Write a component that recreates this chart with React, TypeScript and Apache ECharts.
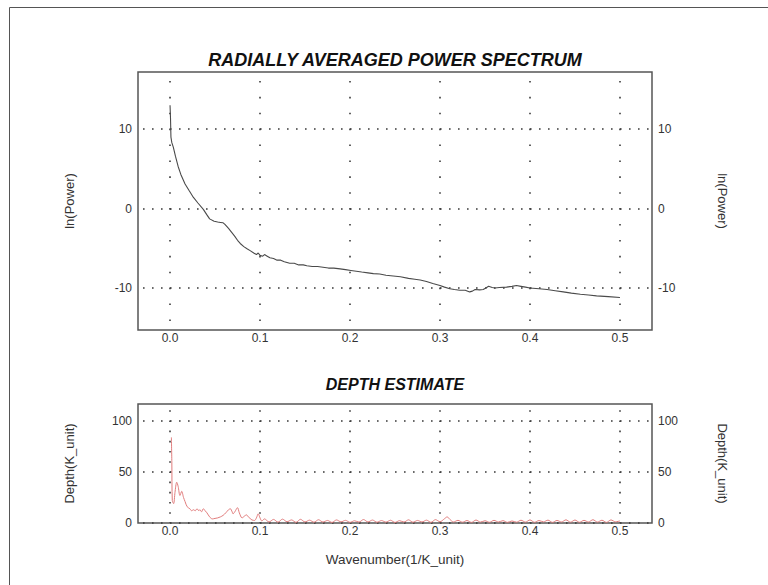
import React, { useEffect, useRef } from "react";
import * as echarts from "echarts";

// Radially averaged power spectrum: [wavenumber, ln(power)]
const powerK = [
  0.0, 0.0005, 0.001, 0.002, 0.0037, 0.006, 0.009, 0.012, 0.0167, 0.021, 0.026, 0.031, 0.037, 0.041, 0.044,
  0.049, 0.053, 0.056, 0.059, 0.061, 0.065, 0.0685, 0.072, 0.075, 0.078, 0.082, 0.086, 0.089, 0.093, 0.096,
  0.098, 0.1, 0.103, 0.105, 0.108, 0.111, 0.115, 0.119, 0.123, 0.127, 0.133, 0.138, 0.143, 0.148, 0.152,
  0.158, 0.164, 0.17, 0.176, 0.182, 0.189, 0.195, 0.201, 0.207, 0.213, 0.22, 0.226, 0.233, 0.24, 0.248,
  0.256, 0.265, 0.272, 0.278, 0.285, 0.292, 0.3, 0.305, 0.311, 0.316, 0.322, 0.328, 0.333, 0.336, 0.339,
  0.344, 0.348, 0.351, 0.354, 0.358, 0.361, 0.366, 0.374, 0.38, 0.385, 0.39, 0.395, 0.4, 0.41, 0.419,
  0.428, 0.437, 0.446, 0.456, 0.465, 0.474, 0.487, 0.5,
];
const powerV = [
  13.0, 11.5, 9.0, 8.3, 7.7, 6.6, 5.3, 4.3, 3.1, 2.3, 1.4, 0.7, -0.1, -0.8, -1.3,
  -1.6, -1.7, -1.75, -1.8, -2.0, -2.5, -3.0, -3.5, -4.0, -4.4, -4.8, -5.1, -5.3, -5.6, -5.8,
  -5.6, -5.9, -6.0, -5.8, -6.0, -6.2, -6.3, -6.5, -6.5, -6.7, -6.9, -6.9, -7.1, -7.1, -7.2,
  -7.3, -7.3, -7.4, -7.5, -7.5, -7.6, -7.7, -7.8, -7.9, -8.0, -8.1, -8.2, -8.25, -8.4, -8.5,
  -8.6, -8.8, -8.9, -9.0, -9.2, -9.45, -9.7, -9.9, -10.1, -10.2, -10.3, -10.3, -10.5, -10.4, -10.2,
  -10.25, -10.2, -10.0, -9.8, -9.95, -10.0, -9.95, -9.9, -9.8, -9.7, -9.8, -9.9, -10.0, -10.1, -10.2,
  -10.35, -10.5, -10.65, -10.8, -10.9, -11.0, -11.1, -11.2,
];

// Depth estimate: [wavenumber, depth]
const depthK = [
  0.0015, 0.002, 0.0025, 0.004, 0.0055, 0.0074, 0.009, 0.011, 0.013, 0.015, 0.0167, 0.019, 0.022, 0.024,
  0.026, 0.028, 0.03, 0.032, 0.033, 0.035, 0.037, 0.039, 0.041, 0.044, 0.047, 0.05, 0.053, 0.056, 0.059,
  0.062, 0.065, 0.067, 0.069, 0.07, 0.072, 0.075, 0.077, 0.08, 0.083, 0.085, 0.087, 0.089, 0.091, 0.094,
  0.096, 0.098, 0.1, 0.102, 0.105, 0.11, 0.115, 0.12, 0.125, 0.13, 0.135, 0.14, 0.145, 0.15, 0.155, 0.16,
  0.165, 0.17, 0.175, 0.18, 0.185, 0.19, 0.195, 0.2, 0.205, 0.21, 0.215, 0.22, 0.225, 0.23, 0.235, 0.24,
  0.245, 0.25, 0.255, 0.26, 0.265, 0.27, 0.275, 0.28, 0.285, 0.29, 0.295, 0.3, 0.305, 0.308, 0.311, 0.315,
  0.32, 0.325, 0.33, 0.335, 0.34, 0.345, 0.35, 0.355, 0.36, 0.365, 0.37, 0.375, 0.38, 0.385, 0.39, 0.395,
  0.4, 0.405, 0.41, 0.415, 0.42, 0.425, 0.43, 0.435, 0.44, 0.445, 0.45, 0.455, 0.46, 0.465, 0.47, 0.475,
  0.48, 0.485, 0.49, 0.495, 0.5,
];
const depthV = [
  84, 60, 22, 19, 30, 40, 36, 27, 31, 25, 21, 16, 14, 12,
  13, 12, 14, 12, 13, 11, 14, 12, 10, 6, 4, 4.5, 5, 6, 7.5,
  10, 13, 14, 11, 9, 11, 15, 10, 5, 7, 8, 6, 4.5, 3, 2.5,
  5, 9, 5, 2, 4, 1, 3.5, 0.8, 3.8, 1.2, 3, 0.6, 3.6, 1, 2.8, 0.7,
  3.2, 0.9, 2.5, 0.5, 3.0, 1.1, 2.6, 0.6, 2.2, 0.9, 3.4, 1.0, 2.9, 0.7, 2.4, 0.8,
  2.7, 0.5, 2.3, 0.9, 3.1, 0.7, 2.5, 1.0, 2.8, 0.6, 3.3, 1.2, 4.2, 6.0, 3.5, 1.0,
  2.6, 0.8, 2.4, 0.6, 2.9, 0.9, 2.2, 0.7, 2.6, 1.0, 2.3, 0.6, 2.0, 0.8, 2.7, 0.9,
  3.0, 0.7, 2.4, 1.1, 2.8, 0.6, 2.5, 1.0, 3.1, 0.8, 2.9, 0.7, 2.6, 1.0, 3.2, 0.9,
  2.7, 0.6, 3.0, 1.2, 2.0,
];

const xTicks = [0, 0.1, 0.2, 0.3, 0.4, 0.5];
const powerTicks = [-10, 0, 10];
const depthTicks = [0, 50, 100];

const xMin = -0.0356;
const xMax = 0.5356;
const powerMin = -15.3;
const powerMax = 17.2;
const depthMin = 0;
const depthMax = 116.7;

const FONT = "'Liberation Sans', Arial, sans-serif";
const DOT = "#3a3a3a";

export default function App() {
  const ref = useRef<HTMLDivElement>(null);

  useEffect(() => {
    if (!ref.current) return;
    const chart = echarts.init(ref.current, null, { renderer: "svg" });

    const labelStyle = { color: "#333", fontSize: 12, fontFamily: FONT };
    const nameStyle = { color: "#333", fontSize: 13, fontFamily: FONT };

    const xAxisBase = (gridIndex: number, dash: number[], offset: number, margin: number) => ({
      type: "value",
      gridIndex,
      min: xMin,
      max: xMax,
      axisLine: { show: false },
      axisTick: { show: false, customValues: xTicks },
      axisLabel: {
        ...labelStyle,
        margin,
        customValues: xTicks,
        formatter: (v: number) => v.toFixed(1),
      },
      splitLine: {
        show: true,
        lineStyle: { color: DOT, width: 1.6, type: dash, dashOffset: offset },
      },
    });

    const yAxisBase = (
      gridIndex: number,
      min: number,
      max: number,
      ticks: number[],
      position: string,
      name: string,
      split: boolean
    ) => ({
      type: "value",
      gridIndex,
      min,
      max,
      position,
      name,
      nameLocation: "middle",
      nameGap: position === "left" ? 62 : 64,
      nameRotate: position === "left" ? 90 : -90,
      nameTextStyle: nameStyle,
      axisLine: { show: false },
      axisTick: { show: false, customValues: ticks },
      axisLabel: { ...labelStyle, margin: 6, customValues: ticks },
      splitLine: {
        show: split,
        lineStyle: { color: DOT, width: 1.6, type: [1.6, 7.4], dashOffset: 4 },
      },
    });

    const option: any = {
      animation: false,
      backgroundColor: "#fff",
      grid: [
        {
          left: 138,
          right: 116,
          top: 72,
          height: 258,
          show: true,
          borderColor: "#555",
          borderWidth: 1.5,
          backgroundColor: "transparent",
        },
        {
          left: 138,
          right: 116,
          top: 404,
          height: 119,
          show: true,
          borderColor: "#555",
          borderWidth: 1.5,
          backgroundColor: "transparent",
        },
      ],
      xAxis: [
        xAxisBase(0, [1.6, 14.3], 6.5, 2),
        {
          ...xAxisBase(1, [1.6, 8.6], 4, 2),
          name: "Wavenumber(1/K_unit)",
          nameLocation: "middle",
          nameGap: 29,
          nameTextStyle: { ...nameStyle, fontSize: 13.5 },
        },
      ],
      yAxis: [
        yAxisBase(0, powerMin, powerMax, powerTicks, "left", "ln(Power)", true),
        yAxisBase(0, powerMin, powerMax, powerTicks, "right", "ln(Power)", false),
        yAxisBase(1, depthMin, depthMax, depthTicks, "left", "Depth(K_unit)", true),
        yAxisBase(1, depthMin, depthMax, depthTicks, "right", "Depth(K_unit)", false),
      ],
      series: [
        {
          type: "line",
          xAxisIndex: 0,
          yAxisIndex: 0,
          data: powerK.map((k, i) => [k, powerV[i]]),
          showSymbol: false,
          lineStyle: { color: "#4a4a4a", width: 1.1 },
        },
        {
          type: "line",
          xAxisIndex: 1,
          yAxisIndex: 2,
          data: depthK.map((k, i) => [k, depthV[i]]),
          showSymbol: false,
          smooth: 0.3,
          lineStyle: { color: "#e07c7c", width: 1 },
        },
      ],
      graphic: [
        {
          type: "rect",
          shape: { x: 9.5, y: 7.5, width: 800, height: 620 },
          style: { fill: "none", stroke: "#555", lineWidth: 1 },
          silent: true,
          z: -1,
        },
        {
          type: "text",
          x: 395,
          y: 60,
          style: {
            text: "RADIALLY AVERAGED POWER SPECTRUM",
            fontFamily: FONT,
            fontSize: 18,
            fontWeight: "bold",
            fontStyle: "italic",
            fill: "#111",
            align: "center",
            verticalAlign: "middle",
          },
        },
        {
          type: "text",
          x: 395,
          y: 384,
          style: {
            text: "DEPTH ESTIMATE",
            fontFamily: FONT,
            fontSize: 16,
            fontWeight: "bold",
            fontStyle: "italic",
            fill: "#111",
            align: "center",
            verticalAlign: "middle",
          },
        },
      ],
    };

    chart.setOption(option);
    return () => chart.dispose();
  }, []);

  return (
    <div
      ref={ref}
      style={{ position: "fixed", left: 0, top: 0, width: 768, height: 585, background: "#fff" }}
    />
  );
}
